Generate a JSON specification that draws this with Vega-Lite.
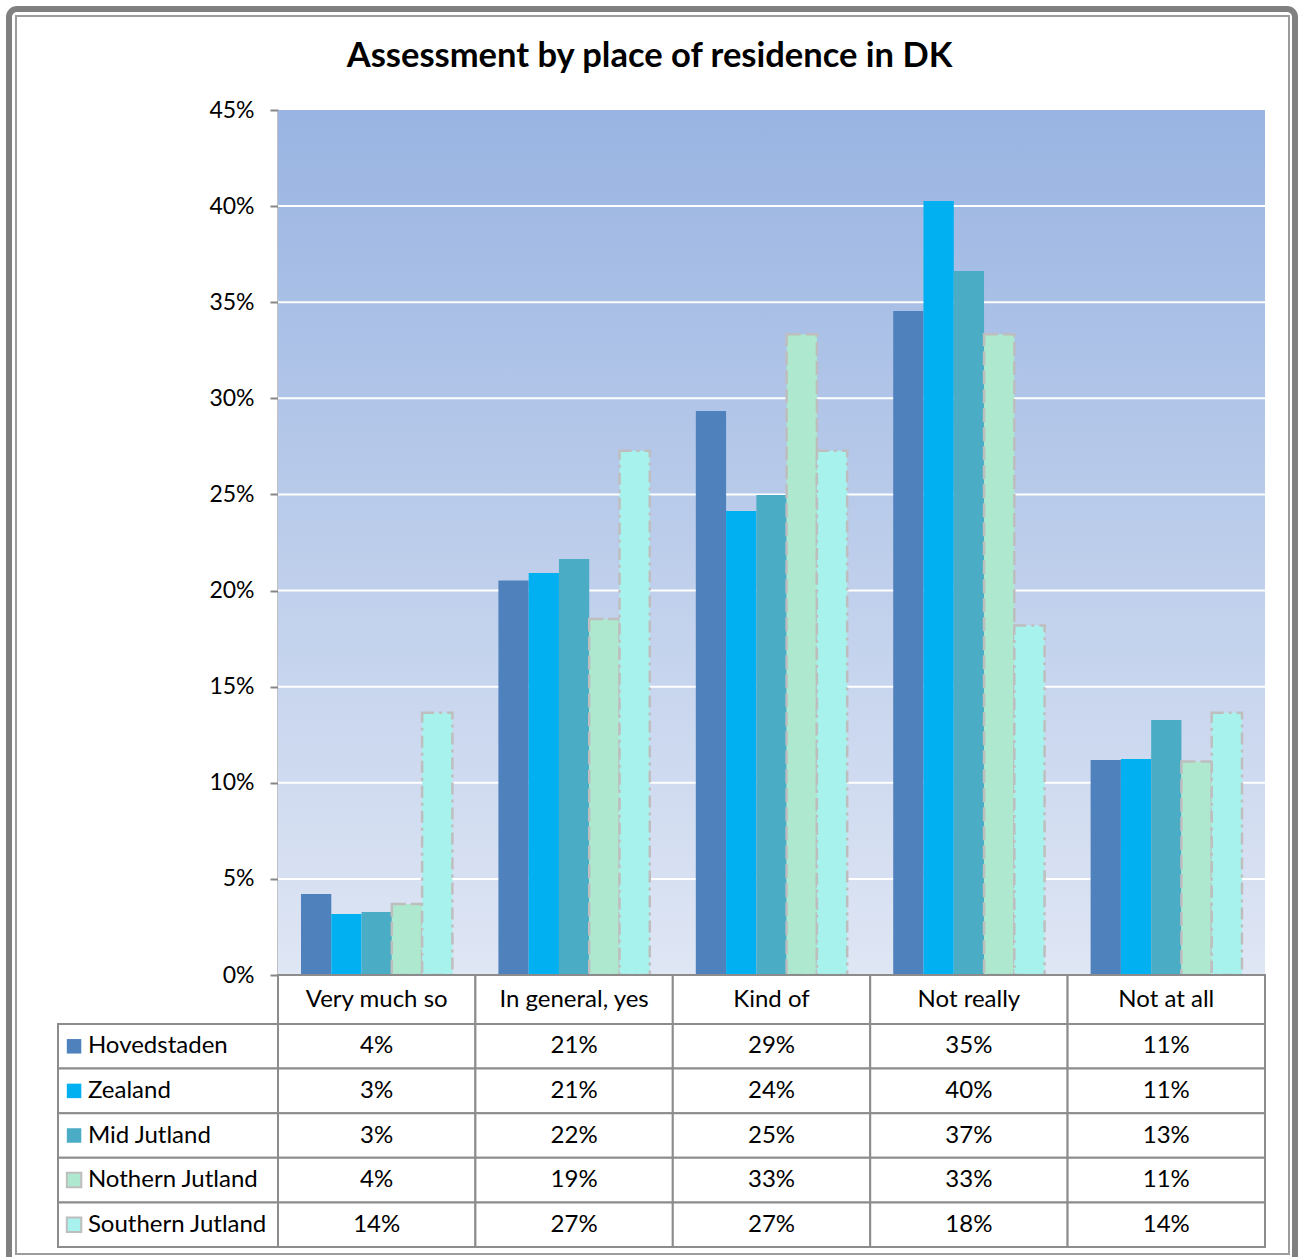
{
  "$schema": "https://vega.github.io/schema/vega-lite/v6.json",
  "width": 1299,
  "height": 1257,
  "autosize": {"type": "none"},
  "padding": 0,
  "background": "white",
  "config": {"view": {"stroke": null}, "font": "Lato"},
  "title": {"text": "Assessment by place of residence in DK", "frame": "group", "anchor": "middle", "offset": -74, "fontSize": 34.5, "fontWeight": "bold", "font": "Lato", "color": "#000000"},
  "datasets": {
    "bars": [
      {"category": "Very much so", "series": "Hovedstaden", "value": 0.0421},
      {"category": "Very much so", "series": "Zealand", "value": 0.0317},
      {"category": "Very much so", "series": "Mid Jutland", "value": 0.0328},
      {"category": "Very much so", "series": "Nothern Jutland", "value": 0.0370},
      {"category": "Very much so", "series": "Southern Jutland", "value": 0.1364},
      {"category": "In general, yes", "series": "Hovedstaden", "value": 0.2052},
      {"category": "In general, yes", "series": "Zealand", "value": 0.2091},
      {"category": "In general, yes", "series": "Mid Jutland", "value": 0.2164},
      {"category": "In general, yes", "series": "Nothern Jutland", "value": 0.1852},
      {"category": "In general, yes", "series": "Southern Jutland", "value": 0.2727},
      {"category": "Kind of", "series": "Hovedstaden", "value": 0.2934},
      {"category": "Kind of", "series": "Zealand", "value": 0.2414},
      {"category": "Kind of", "series": "Mid Jutland", "value": 0.2497},
      {"category": "Kind of", "series": "Nothern Jutland", "value": 0.3333},
      {"category": "Kind of", "series": "Southern Jutland", "value": 0.2727},
      {"category": "Not really", "series": "Hovedstaden", "value": 0.3454},
      {"category": "Not really", "series": "Zealand", "value": 0.4027},
      {"category": "Not really", "series": "Mid Jutland", "value": 0.3662},
      {"category": "Not really", "series": "Nothern Jutland", "value": 0.3333},
      {"category": "Not really", "series": "Southern Jutland", "value": 0.1818},
      {"category": "Not at all", "series": "Hovedstaden", "value": 0.1119},
      {"category": "Not at all", "series": "Zealand", "value": 0.1124},
      {"category": "Not at all", "series": "Mid Jutland", "value": 0.1327},
      {"category": "Not at all", "series": "Nothern Jutland", "value": 0.1111},
      {"category": "Not at all", "series": "Southern Jutland", "value": 0.1364}
    ],
    "cats": [
      {"category": "Very much so"},
      {"category": "In general, yes"},
      {"category": "Kind of"},
      {"category": "Not really"},
      {"category": "Not at all"}
    ],
    "series": [
      {"series": "Hovedstaden"},
      {"series": "Zealand"},
      {"series": "Mid Jutland"},
      {"series": "Nothern Jutland"},
      {"series": "Southern Jutland"}
    ],
    "grid": [
      {"v": 0.05}, {"v": 0.10}, {"v": 0.15}, {"v": 0.20},
      {"v": 0.25}, {"v": 0.30}, {"v": 0.35}, {"v": 0.40}
    ]
  },
  "resolve": {"scale": {"x": "independent", "y": "independent"}, "axis": {"x": "independent", "y": "independent"}},
  "layer": [
    {
      "data": {"values": [{}]},
      "mark": {"type": "rect", "filled": false, "stroke": "#808080", "strokeWidth": 6, "cornerRadius": 8, "clip": false},
      "encoding": {
        "x": {"datum": 0, "type": "quantitative", "scale": {"domain": [0, 1], "range": [9, 1295]}, "axis": null},
        "x2": {"datum": 1},
        "y": {"datum": 0, "type": "quantitative", "scale": {"domain": [0, 1], "range": [9, 1264]}, "axis": null},
        "y2": {"datum": 1}
      }
    },
    {
      "data": {"values": [{}]},
      "mark": {"type": "rect", "filled": false, "stroke": "#9C9C9C", "strokeWidth": 2},
      "encoding": {
        "x": {"datum": 0, "type": "quantitative", "scale": {"domain": [0, 1], "range": [16, 1289]}, "axis": null},
        "x2": {"datum": 1},
        "y": {"datum": 0, "type": "quantitative", "scale": {"domain": [0, 1], "range": [16, 1254]}, "axis": null},
        "y2": {"datum": 1}
      }
    },
    {
      "data": {"values": [{}]},
      "mark": {"type": "rect", "fill": {"gradient": "linear", "x1": 0, "y1": 0, "x2": 0, "y2": 1, "stops": [{"offset": 0, "color": "#99B4E2"}, {"offset": 1, "color": "#DFE6F4"}]}},
      "encoding": {
        "x": {"datum": 0, "type": "quantitative", "scale": {"domain": [0, 1], "range": [278, 1265]}, "axis": null},
        "x2": {"datum": 1},
        "y": {"datum": 0, "type": "quantitative", "scale": {"domain": [0, 1], "range": [110, 975]}, "axis": null},
        "y2": {"datum": 1}
      }
    },
    {
      "data": {"name": "grid"},
      "mark": {"type": "rule", "color": "#FFFFFF", "strokeWidth": 2},
      "encoding": {
        "x": {"datum": 0, "type": "quantitative", "scale": {"domain": [0, 1], "range": [278, 1265]}, "axis": null},
        "x2": {"datum": 1},
        "y": {"field": "v", "type": "quantitative", "scale": {"domain": [0, 0.45], "range": [975, 110], "nice": false}, "axis": null}
      }
    },
    {
      "data": {"name": "bars"},
      "mark": {"type": "bar", "strokeWidth": 2.5},
      "encoding": {
        "x": {"field": "category", "type": "nominal", "scale": {"domain": ["Very much so", "In general, yes", "Kind of", "Not really", "Not at all"], "range": [278, 1265], "paddingInner": 0, "paddingOuter": 0}, "axis": null},
        "xOffset": {"field": "series", "type": "nominal", "scale": {"domain": ["Hovedstaden", "Zealand", "Mid Jutland", "Nothern Jutland", "Southern Jutland"], "paddingInner": 0, "paddingOuter": 0.76}},
        "y": {"field": "value", "type": "quantitative", "scale": {"domain": [0, 0.45], "range": [975, 110], "nice": false}, "axis": {"offset": -278, "values": [0, 0.05, 0.1, 0.15, 0.2, 0.25, 0.3, 0.35, 0.4, 0.45], "format": ".0%", "grid": false, "title": null, "domainColor": "#868686", "domainWidth": 2, "tickColor": "#868686", "tickWidth": 2, "tickSize": 8, "labelPadding": 16, "labelFontSize": 23, "labelFont": "Lato", "labelColor": "#000000"}},
        "fill": {"field": "series", "type": "nominal", "scale": {"domain": ["Hovedstaden", "Zealand", "Mid Jutland", "Nothern Jutland", "Southern Jutland"], "range": ["#4F81BD", "#00B0F0", "#4BACC6", "#ADE8CF", "#A8F2EE"]}, "legend": null},
        "stroke": {"field": "series", "type": "nominal", "scale": {"domain": ["Hovedstaden", "Zealand", "Mid Jutland", "Nothern Jutland", "Southern Jutland"], "range": ["transparent", "transparent", "transparent", "#BEBEBE", "#BEBEBE"]}, "legend": null},
        "strokeDash": {"field": "series", "type": "nominal", "scale": {"domain": ["Hovedstaden", "Zealand", "Mid Jutland", "Nothern Jutland", "Southern Jutland"], "range": [[1, 0], [1, 0], [1, 0], [14, 5], [12, 5, 3, 5]]}, "legend": null}
      }
    },
    {
      "data": {"name": "cats"},
      "layer": [
        {
          "mark": {"type": "rect", "fill": "#FFFFFF", "stroke": "#8C8C8C", "strokeWidth": 2}
        },
        {
          "mark": {"type": "text", "fontSize": 24, "font": "Lato", "color": "#000000", "baseline": "middle", "align": "center"},
          "encoding": {"text": {"field": "category"}}
        }
      ],
      "encoding": {
        "x": {"field": "category", "type": "nominal", "scale": {"domain": ["Very much so", "In general, yes", "Kind of", "Not really", "Not at all"], "range": [278, 1265], "paddingInner": 0, "paddingOuter": 0}, "axis": null},
        "y": {"datum": "h", "type": "nominal", "scale": {"domain": ["h"], "range": [975, 1024], "paddingInner": 0, "paddingOuter": 0}, "axis": null}
      }
    },
    {
      "data": {"name": "bars"},
      "layer": [
        {
          "mark": {"type": "rect", "fill": "#FFFFFF", "stroke": "#8C8C8C", "strokeWidth": 2}
        },
        {
          "mark": {"type": "text", "fontSize": 24, "font": "Lato", "color": "#000000", "baseline": "middle", "align": "center"},
          "encoding": {"text": {"field": "value", "type": "quantitative", "format": ".0%"}}
        }
      ],
      "encoding": {
        "x": {"field": "category", "type": "nominal", "scale": {"domain": ["Very much so", "In general, yes", "Kind of", "Not really", "Not at all"], "range": [278, 1265], "paddingInner": 0, "paddingOuter": 0}, "axis": null},
        "y": {"field": "series", "type": "nominal", "scale": {"domain": ["Hovedstaden", "Zealand", "Mid Jutland", "Nothern Jutland", "Southern Jutland"], "range": [1024, 1247], "paddingInner": 0, "paddingOuter": 0}, "axis": null}
      }
    },
    {
      "data": {"name": "series"},
      "layer": [
        {
          "mark": {"type": "rect", "fill": "#FFFFFF", "stroke": "#8C8C8C", "strokeWidth": 2},
          "encoding": {
            "x": {"datum": "lab", "type": "nominal", "scale": {"domain": ["lab"], "range": [58, 278], "paddingInner": 0, "paddingOuter": 0}, "axis": null}
          }
        },
        {
          "mark": {"type": "point", "shape": "square", "size": 210, "filled": true, "opacity": 1, "strokeWidth": 2},
          "encoding": {
            "x": {"datum": "lab", "type": "nominal", "bandPosition": 0.073, "scale": {"domain": ["lab"], "range": [58, 278], "paddingInner": 0, "paddingOuter": 0}, "axis": null},
            "fill": {"field": "series", "type": "nominal", "scale": {"domain": ["Hovedstaden", "Zealand", "Mid Jutland", "Nothern Jutland", "Southern Jutland"], "range": ["#4F81BD", "#00B0F0", "#4BACC6", "#ADE8CF", "#A8F2EE"]}, "legend": null},
            "stroke": {"field": "series", "type": "nominal", "scale": {"domain": ["Hovedstaden", "Zealand", "Mid Jutland", "Nothern Jutland", "Southern Jutland"], "range": ["transparent", "transparent", "transparent", "#BEBEBE", "#BEBEBE"]}, "legend": null}
          }
        },
        {
          "mark": {"type": "text", "fontSize": 24, "font": "Lato", "color": "#000000", "baseline": "middle", "align": "left"},
          "encoding": {
            "x": {"datum": "lab", "type": "nominal", "bandPosition": 0.136, "scale": {"domain": ["lab"], "range": [58, 278], "paddingInner": 0, "paddingOuter": 0}, "axis": null},
            "text": {"field": "series"}
          }
        }
      ],
      "encoding": {
        "y": {"field": "series", "type": "nominal", "scale": {"domain": ["Hovedstaden", "Zealand", "Mid Jutland", "Nothern Jutland", "Southern Jutland"], "range": [1024, 1247], "paddingInner": 0, "paddingOuter": 0}, "axis": null}
      }
    }
  ]
}
